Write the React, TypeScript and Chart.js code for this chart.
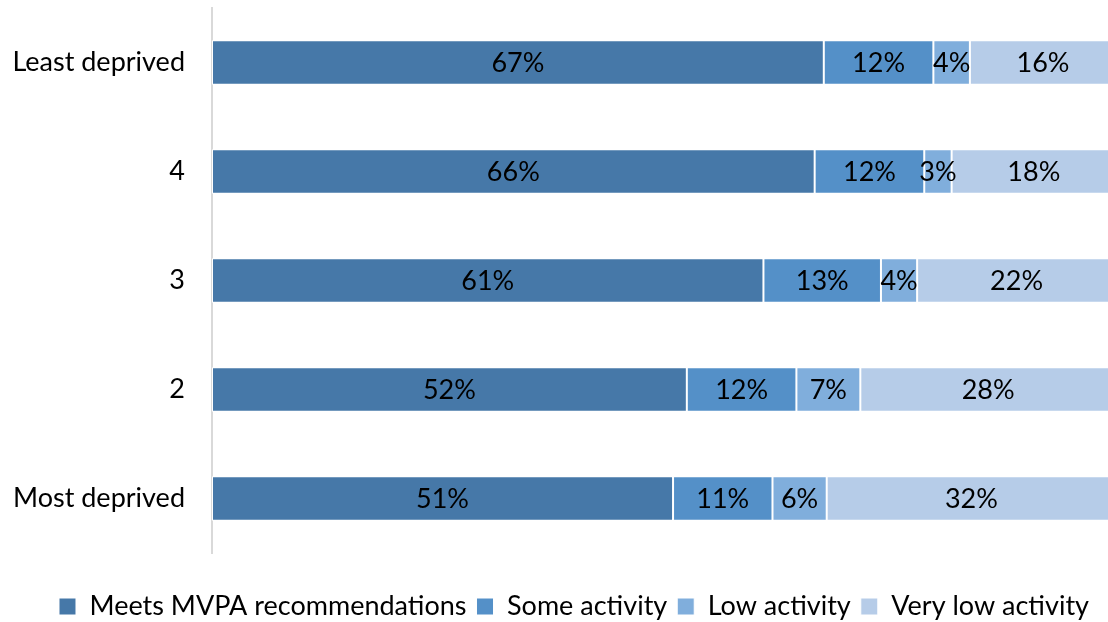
import React, { useEffect, useRef } from "react";
import { Chart, registerables } from "chart.js";

Chart.register(...registerables);

const categories = ["Least deprived", "4", "3", "2", "Most deprived"];
const seriesNames = ["Meets MVPA recommendations", "Some activity", "Low activity", "Very low activity"];
const meetsMVPA = [67, 66, 61, 52, 51];
const someActivity = [12, 12, 13, 12, 11];
const lowActivity = [4, 3, 4, 7, 6];
const veryLowActivity = [16, 18, 22, 28, 32];
const colors = ["#4678A8", "#5490C8", "#80AEDC", "#B6CCE8"];

const FONT = "Lato";
const FS = 27;

const raw = [meetsMVPA, someActivity, lowActivity, veryLowActivity];
const rowTotals = categories.map((_, i) => raw.reduce((s, arr) => s + arr[i], 0));

const labelPlugin = {
  id: "segLabels",
  afterLayout(chart: any) {
    const lg = chart.legend;
    if (lg) {
      lg.left += 16;
      lg.right += 16;
    }
  },
  afterDatasetsDraw(chart: any) {
    const ctx = chart.ctx;
    ctx.save();
    ctx.font = `${FS}px ${FONT}`;
    ctx.fillStyle = "#000";
    ctx.textAlign = "center";
    ctx.textBaseline = "middle";
    chart.data.datasets.forEach((ds: any, di: number) => {
      const meta = chart.getDatasetMeta(di);
      meta.data.forEach((el: any, i: number) => {
        const cx = (el.x + el.base) / 2;
        ctx.fillText(`${raw[di][i]}%`, cx, el.y + 1);
      });
    });
    ctx.restore();
  },
};

export default function App() {
  const ref = useRef<HTMLCanvasElement>(null);
  useEffect(() => {
    if (!ref.current) return;
    const chart = new Chart(ref.current, {
      type: "bar",
      data: {
        labels: categories,
        datasets: raw.map((arr, di) => ({
          label: seriesNames[di],
          data: arr.map((v, i) => (v / rowTotals[i]) * 100),
          backgroundColor: colors[di],
          borderColor: "#ffffff",
          borderWidth: 1,
          borderSkipped: false,
          barPercentage: 0.41,
          categoryPercentage: 1,
        })),
      },
      options: {
        indexAxis: "y",
        animation: false,
        responsive: true,
        maintainAspectRatio: false,
        layout: { padding: { top: 8, right: 32, left: 0, bottom: 0 } },
        scales: {
          x: {
            stacked: true,
            min: 0,
            max: 100,
            grid: { display: false },
            border: { display: false },
            ticks: { display: false },
            afterFit: (s: any) => {
              s.height = 30;
            },
          },
          y: {
            stacked: true,
            grid: { display: false, drawTicks: false },
            border: { display: true, color: "#D9D9D9", width: 2 },
            ticks: { color: "#000", font: { family: FONT, size: FS }, padding: 27, crossAlign: "near" },
            afterFit: (s: any) => {
              s.width = 212;
              s.paddingTop = 0;
              s.paddingBottom = 0;
            },
          },
        },
        plugins: {
          legend: {
            position: "bottom",
            labels: {
              color: "#000",
              font: { family: FONT, size: FS },
              boxWidth: 17,
              boxHeight: 17,
              padding: 10,
            },
          },
          tooltip: { enabled: false },
        },
      },
      plugins: [labelPlugin],
    });
    return () => chart.destroy();
  }, []);
  return (
    <div style={{ position: "fixed", left: 0, top: 0, width: 1108, height: 622, overflow: "hidden", background: "#fff" }}>
      <div style={{ position: "relative", width: 1148, height: 630 }}>
        <canvas ref={ref} />
      </div>
    </div>
  );
}
